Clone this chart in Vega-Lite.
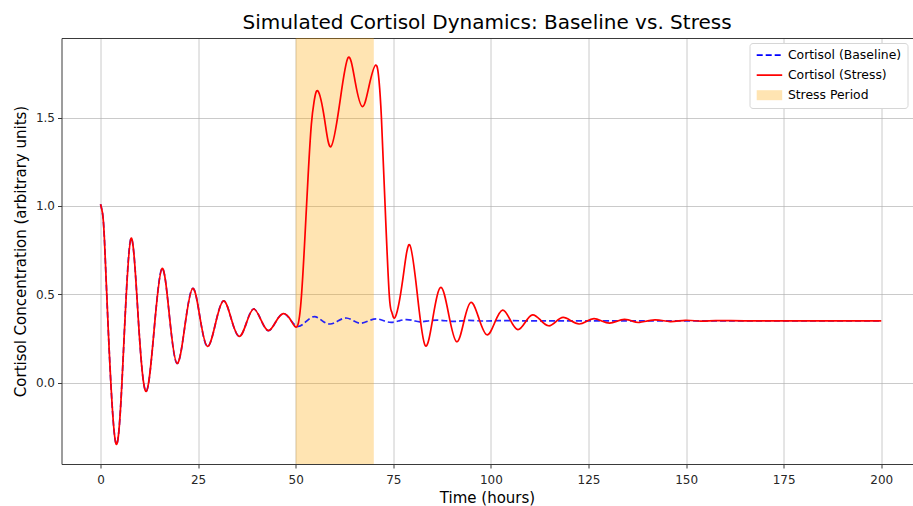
{
  "$schema": "https://vega.github.io/schema/vega-lite/v6.json",
  "width": 851,
  "height": 426,
  "autosize": {"type": "none"},
  "padding": {"left": 61.5, "top": 38, "right": 0, "bottom": 42},
  "background": "white",
  "title": {"text": "Simulated Cortisol Dynamics: Baseline vs. Stress", "font": "DejaVu Sans", "fontSize": 20, "fontWeight": "normal", "color": "#000000", "anchor": "middle", "frame": "group", "offset": 5},
  "datasets": {
    "span": [{"series": "Stress Period", "t": 50, "t2": 70}],
    "lines": [
      {"series": "Cortisol (Baseline)", "t": 0, "v": 1.01},
      {"series": "Cortisol (Baseline)", "t": 0.5, "v": 0.96},
      {"series": "Cortisol (Baseline)", "t": 1, "v": 0.81},
      {"series": "Cortisol (Baseline)", "t": 2, "v": 0.29},
      {"series": "Cortisol (Baseline)", "t": 3.97, "v": -0.346},
      {"series": "Cortisol (Baseline)", "t": 5.9, "v": 0.19},
      {"series": "Cortisol (Baseline)", "t": 7.82, "v": 0.817},
      {"series": "Cortisol (Baseline)", "t": 9.76, "v": 0.33},
      {"series": "Cortisol (Baseline)", "t": 11.7, "v": -0.049},
      {"series": "Cortisol (Baseline)", "t": 13.73, "v": 0.30},
      {"series": "Cortisol (Baseline)", "t": 15.76, "v": 0.646},
      {"series": "Cortisol (Baseline)", "t": 17.68, "v": 0.37},
      {"series": "Cortisol (Baseline)", "t": 19.6, "v": 0.109},
      {"series": "Cortisol (Baseline)", "t": 21.6, "v": 0.32},
      {"series": "Cortisol (Baseline)", "t": 23.6, "v": 0.533},
      {"series": "Cortisol (Baseline)", "t": 25.5, "v": 0.365},
      {"series": "Cortisol (Baseline)", "t": 27.4, "v": 0.205},
      {"series": "Cortisol (Baseline)", "t": 29.45, "v": 0.335},
      {"series": "Cortisol (Baseline)", "t": 31.5, "v": 0.463},
      {"series": "Cortisol (Baseline)", "t": 33.5, "v": 0.36},
      {"series": "Cortisol (Baseline)", "t": 35.5, "v": 0.262},
      {"series": "Cortisol (Baseline)", "t": 37.4, "v": 0.34},
      {"series": "Cortisol (Baseline)", "t": 39.2, "v": 0.417},
      {"series": "Cortisol (Baseline)", "t": 41.1, "v": 0.355},
      {"series": "Cortisol (Baseline)", "t": 43.0, "v": 0.294},
      {"series": "Cortisol (Baseline)", "t": 44.9, "v": 0.345},
      {"series": "Cortisol (Baseline)", "t": 46.8, "v": 0.391},
      {"series": "Cortisol (Baseline)", "t": 48.7, "v": 0.355},
      {"series": "Cortisol (Baseline)", "t": 50.6, "v": 0.318},
      {"series": "Cortisol (Baseline)", "t": 52.7, "v": 0.347},
      {"series": "Cortisol (Baseline)", "t": 54.8, "v": 0.374},
      {"series": "Cortisol (Baseline)", "t": 56.8, "v": 0.35},
      {"series": "Cortisol (Baseline)", "t": 58.8, "v": 0.332},
      {"series": "Cortisol (Baseline)", "t": 60.9, "v": 0.35},
      {"series": "Cortisol (Baseline)", "t": 62.9, "v": 0.366},
      {"series": "Cortisol (Baseline)", "t": 64.8, "v": 0.35},
      {"series": "Cortisol (Baseline)", "t": 66.7, "v": 0.336},
      {"series": "Cortisol (Baseline)", "t": 68.7, "v": 0.35},
      {"series": "Cortisol (Baseline)", "t": 70.7, "v": 0.361},
      {"series": "Cortisol (Baseline)", "t": 72.6, "v": 0.35},
      {"series": "Cortisol (Baseline)", "t": 74.5, "v": 0.341},
      {"series": "Cortisol (Baseline)", "t": 76.5, "v": 0.35},
      {"series": "Cortisol (Baseline)", "t": 78.4, "v": 0.357},
      {"series": "Cortisol (Baseline)", "t": 80.4, "v": 0.35},
      {"series": "Cortisol (Baseline)", "t": 82.3, "v": 0.345},
      {"series": "Cortisol (Baseline)", "t": 86.2, "v": 0.354},
      {"series": "Cortisol (Baseline)", "t": 90.1, "v": 0.347},
      {"series": "Cortisol (Baseline)", "t": 94.0, "v": 0.352},
      {"series": "Cortisol (Baseline)", "t": 98, "v": 0.349},
      {"series": "Cortisol (Baseline)", "t": 102, "v": 0.351},
      {"series": "Cortisol (Baseline)", "t": 110, "v": 0.35},
      {"series": "Cortisol (Baseline)", "t": 130, "v": 0.35},
      {"series": "Cortisol (Baseline)", "t": 160, "v": 0.35},
      {"series": "Cortisol (Baseline)", "t": 200, "v": 0.35},
      {"series": "Cortisol (Stress)", "t": 0, "v": 1.01},
      {"series": "Cortisol (Stress)", "t": 0.5, "v": 0.96},
      {"series": "Cortisol (Stress)", "t": 1, "v": 0.81},
      {"series": "Cortisol (Stress)", "t": 2, "v": 0.29},
      {"series": "Cortisol (Stress)", "t": 3.97, "v": -0.346},
      {"series": "Cortisol (Stress)", "t": 5.9, "v": 0.19},
      {"series": "Cortisol (Stress)", "t": 7.82, "v": 0.817},
      {"series": "Cortisol (Stress)", "t": 9.76, "v": 0.33},
      {"series": "Cortisol (Stress)", "t": 11.7, "v": -0.049},
      {"series": "Cortisol (Stress)", "t": 13.73, "v": 0.30},
      {"series": "Cortisol (Stress)", "t": 15.76, "v": 0.646},
      {"series": "Cortisol (Stress)", "t": 17.68, "v": 0.37},
      {"series": "Cortisol (Stress)", "t": 19.6, "v": 0.109},
      {"series": "Cortisol (Stress)", "t": 21.6, "v": 0.32},
      {"series": "Cortisol (Stress)", "t": 23.6, "v": 0.533},
      {"series": "Cortisol (Stress)", "t": 25.5, "v": 0.365},
      {"series": "Cortisol (Stress)", "t": 27.4, "v": 0.205},
      {"series": "Cortisol (Stress)", "t": 29.45, "v": 0.335},
      {"series": "Cortisol (Stress)", "t": 31.5, "v": 0.463},
      {"series": "Cortisol (Stress)", "t": 33.5, "v": 0.36},
      {"series": "Cortisol (Stress)", "t": 35.5, "v": 0.262},
      {"series": "Cortisol (Stress)", "t": 37.4, "v": 0.34},
      {"series": "Cortisol (Stress)", "t": 39.2, "v": 0.417},
      {"series": "Cortisol (Stress)", "t": 41.1, "v": 0.355},
      {"series": "Cortisol (Stress)", "t": 43.0, "v": 0.294},
      {"series": "Cortisol (Stress)", "t": 44.9, "v": 0.345},
      {"series": "Cortisol (Stress)", "t": 46.8, "v": 0.391},
      {"series": "Cortisol (Stress)", "t": 48.7, "v": 0.355},
      {"series": "Cortisol (Stress)", "t": 50.45, "v": 0.321},
      {"series": "Cortisol (Stress)", "t": 51.5, "v": 0.50},
      {"series": "Cortisol (Stress)", "t": 52.3, "v": 0.80},
      {"series": "Cortisol (Stress)", "t": 53.2, "v": 1.18},
      {"series": "Cortisol (Stress)", "t": 54.0, "v": 1.46},
      {"series": "Cortisol (Stress)", "t": 54.7, "v": 1.59},
      {"series": "Cortisol (Stress)", "t": 55.7, "v": 1.65},
      {"series": "Cortisol (Stress)", "t": 57.35, "v": 1.495},
      {"series": "Cortisol (Stress)", "t": 59.0, "v": 1.335},
      {"series": "Cortisol (Stress)", "t": 61.2, "v": 1.57},
      {"series": "Cortisol (Stress)", "t": 63.4, "v": 1.838},
      {"series": "Cortisol (Stress)", "t": 65.25, "v": 1.70},
      {"series": "Cortisol (Stress)", "t": 67.1, "v": 1.562},
      {"series": "Cortisol (Stress)", "t": 68.8, "v": 1.68},
      {"series": "Cortisol (Stress)", "t": 70.5, "v": 1.797},
      {"series": "Cortisol (Stress)", "t": 71.35, "v": 1.706},
      {"series": "Cortisol (Stress)", "t": 71.95, "v": 1.50},
      {"series": "Cortisol (Stress)", "t": 72.9, "v": 1.0},
      {"series": "Cortisol (Stress)", "t": 73.95, "v": 0.5},
      {"series": "Cortisol (Stress)", "t": 74.6, "v": 0.40},
      {"series": "Cortisol (Stress)", "t": 75.55, "v": 0.373},
      {"series": "Cortisol (Stress)", "t": 77.4, "v": 0.58},
      {"series": "Cortisol (Stress)", "t": 79.2, "v": 0.78},
      {"series": "Cortisol (Stress)", "t": 81.2, "v": 0.49},
      {"series": "Cortisol (Stress)", "t": 83.2, "v": 0.209},
      {"series": "Cortisol (Stress)", "t": 85.2, "v": 0.375},
      {"series": "Cortisol (Stress)", "t": 87.2, "v": 0.539},
      {"series": "Cortisol (Stress)", "t": 89.2, "v": 0.385},
      {"series": "Cortisol (Stress)", "t": 91.2, "v": 0.232},
      {"series": "Cortisol (Stress)", "t": 93.05, "v": 0.343},
      {"series": "Cortisol (Stress)", "t": 94.9, "v": 0.454},
      {"series": "Cortisol (Stress)", "t": 96.95, "v": 0.362},
      {"series": "Cortisol (Stress)", "t": 99.0, "v": 0.271},
      {"series": "Cortisol (Stress)", "t": 101.0, "v": 0.341},
      {"series": "Cortisol (Stress)", "t": 103.0, "v": 0.411},
      {"series": "Cortisol (Stress)", "t": 104.95, "v": 0.355},
      {"series": "Cortisol (Stress)", "t": 106.9, "v": 0.30},
      {"series": "Cortisol (Stress)", "t": 108.8, "v": 0.342},
      {"series": "Cortisol (Stress)", "t": 110.7, "v": 0.384},
      {"series": "Cortisol (Stress)", "t": 112.75, "v": 0.353},
      {"series": "Cortisol (Stress)", "t": 114.8, "v": 0.322},
      {"series": "Cortisol (Stress)", "t": 116.65, "v": 0.345},
      {"series": "Cortisol (Stress)", "t": 118.5, "v": 0.369},
      {"series": "Cortisol (Stress)", "t": 120.55, "v": 0.35},
      {"series": "Cortisol (Stress)", "t": 122.6, "v": 0.332},
      {"series": "Cortisol (Stress)", "t": 124.5, "v": 0.347},
      {"series": "Cortisol (Stress)", "t": 126.4, "v": 0.362},
      {"series": "Cortisol (Stress)", "t": 128.4, "v": 0.349},
      {"series": "Cortisol (Stress)", "t": 130.4, "v": 0.337},
      {"series": "Cortisol (Stress)", "t": 132.3, "v": 0.348},
      {"series": "Cortisol (Stress)", "t": 134.2, "v": 0.358},
      {"series": "Cortisol (Stress)", "t": 136.2, "v": 0.349},
      {"series": "Cortisol (Stress)", "t": 138.1, "v": 0.341},
      {"series": "Cortisol (Stress)", "t": 142.0, "v": 0.355},
      {"series": "Cortisol (Stress)", "t": 145.9, "v": 0.346},
      {"series": "Cortisol (Stress)", "t": 149.8, "v": 0.353},
      {"series": "Cortisol (Stress)", "t": 153.7, "v": 0.348},
      {"series": "Cortisol (Stress)", "t": 157.6, "v": 0.351},
      {"series": "Cortisol (Stress)", "t": 165, "v": 0.35},
      {"series": "Cortisol (Stress)", "t": 180, "v": 0.35},
      {"series": "Cortisol (Stress)", "t": 200, "v": 0.35}
    ]
  },
  "encoding": {
    "color": {
      "field": "series",
      "type": "nominal",
      "scale": {"domain": ["Cortisol (Baseline)", "Cortisol (Stress)", "Stress Period"], "range": ["#0000ff", "#ff0000", "#ffa500"]},
      "legend": {
        "title": null,
        "orient": "top-right",
        "offset": 5,
        "fillColor": "white",
        "strokeColor": "#d6d6d6",
        "cornerRadius": 3,
        "padding": 6,
        "rowPadding": 7,
        "labelFont": "DejaVu Sans",
        "labelFontSize": 12.4,
        "labelColor": "#000000",
        "symbolSize": 100,
        "labelOffset": 20,
        "encode": {
          "symbols": {
            "update": {
              "shape": {"signal": "datum.value === 'Stress Period' ? 'M-1,-1H4.1V1H-1Z' : 'M-1,0H4.1'"},
              "fill": {"signal": "datum.value === 'Stress Period' ? '#ffa500' : 'transparent'"},
              "fillOpacity": {"signal": "datum.value === 'Stress Period' ? 0.3 : 0"},
              "stroke": {"signal": "datum.value === 'Stress Period' ? 'transparent' : scale('color', datum.value)"},
              "strokeOpacity": {"signal": "datum.value === 'Stress Period' ? 0 : 1"},
              "strokeWidth": {"signal": "datum.value === 'Stress Period' ? 0 : 1.7"},
              "strokeDash": {"signal": "datum.value === 'Cortisol (Baseline)' ? [6, 3] : [1, 0]"},
              "opacity": {"value": 1}
            }
          }
        }
      }
    }
  },
  "layer": [
    {
      "data": {"name": "span"},
      "mark": {"type": "rect", "opacity": 0.3},
      "encoding": {
        "x": {"field": "t", "type": "quantitative", "scale": {"domain": [-10, 208], "nice": false, "zero": false}, "axis": {"orient": "top", "labels": false, "ticks": false, "grid": false, "title": null, "domain": true}},
        "x2": {"field": "t2"}
      }
    },
    {
      "data": {"name": "lines"},
      "transform": [{"filter": "datum.series === 'Cortisol (Baseline)'"}],
      "mark": {"type": "line", "interpolate": "natural", "strokeWidth": 1.7, "strokeDash": [6, 3], "strokeOpacity": 0.85},
      "encoding": {
        "x": {"field": "t", "type": "quantitative", "scale": {"domain": [-10, 208], "nice": false, "zero": false}, "axis": null},
        "y": {"field": "v", "type": "quantitative", "scale": {"domain": [-0.46, 1.95], "nice": false, "zero": false}, "axis": {"values": [0, 0.5, 1, 1.5], "format": ".1f", "title": "Cortisol Concentration (arbitrary units)", "grid": true}}
      }
    },
    {
      "data": {"name": "lines"},
      "transform": [{"filter": "datum.series === 'Cortisol (Stress)'"}],
      "mark": {"type": "line", "interpolate": "natural", "strokeWidth": 1.7},
      "encoding": {
        "x": {"field": "t", "type": "quantitative", "scale": {"domain": [-10, 208], "nice": false, "zero": false}, "axis": {"values": [0, 25, 50, 75, 100, 125, 150, 175, 200], "title": "Time (hours)", "grid": true}},
        "y": {"field": "v", "type": "quantitative", "scale": {"domain": [-0.46, 1.95], "nice": false, "zero": false}, "axis": {"values": [0, 0.5, 1, 1.5], "format": ".1f", "title": "Cortisol Concentration (arbitrary units)", "grid": true}}
      }
    }
  ],
  "resolve": {"axis": {"x": "independent"}},
  "config": {
    "view": {"stroke": null},
    "font": "DejaVu Sans",
    "axis": {
      "labelFont": "DejaVu Sans",
      "labelFontSize": 12,
      "labelColor": "#262626",
      "titleFont": "DejaVu Sans",
      "titleFontSize": 15,
      "titleFontWeight": "normal",
      "titleColor": "#000000",
      "domainColor": "#3a3a3a",
      "domainWidth": 1,
      "tickColor": "#3a3a3a",
      "tickSize": 4,
      "tickWidth": 1,
      "gridColor": "#b0b0b0",
      "gridOpacity": 0.75,
      "gridWidth": 0.9
    },
    "axisX": {"titlePadding": 5, "labelPadding": 6, "labelFlush": false},
    "axisY": {"titlePadding": 7, "labelPadding": 3}
  }
}
